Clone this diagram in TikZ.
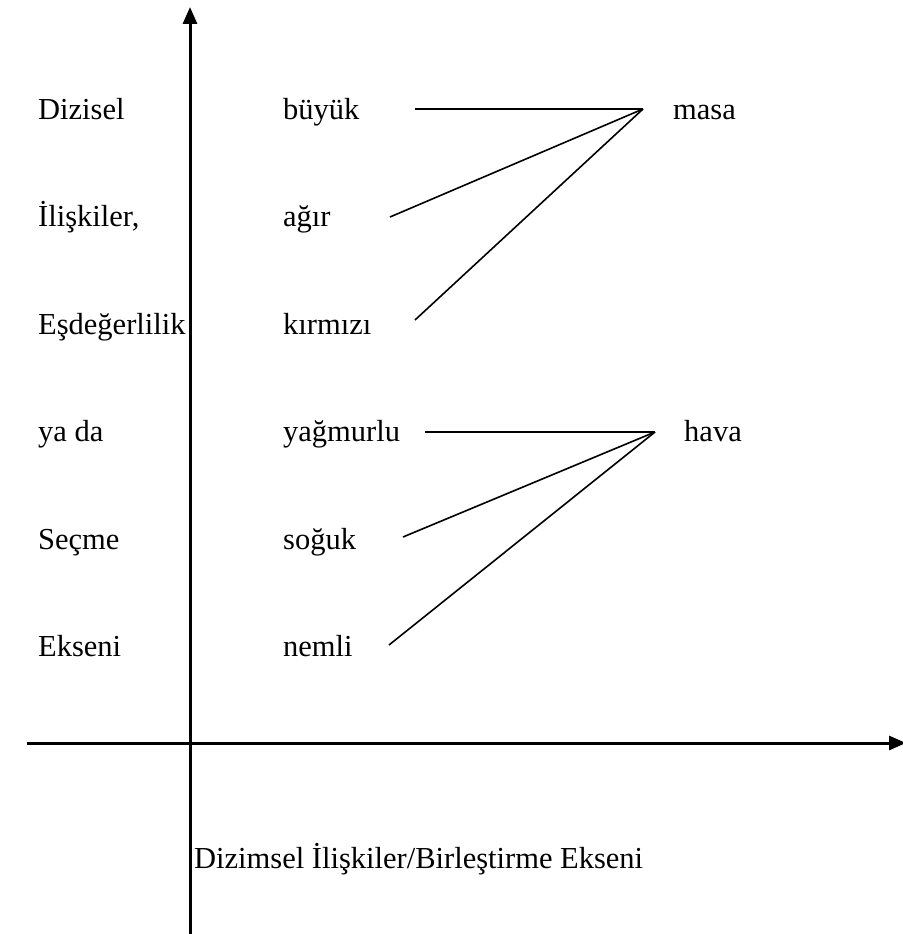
\documentclass[tikz,border=0pt]{standalone}
\usepackage{fontspec}
\setmainfont{Liberation Serif}
\usetikzlibrary{arrows.meta}
\begin{document}
\begin{tikzpicture}[x=1pt,y=-1pt,
  lbl/.style={anchor=base west,inner sep=0pt,font=\fontsize{30.5}{36}\selectfont},
  axis/.style={line width=3pt,-{Triangle[length=17pt,width=14pt]}},
  link/.style={line width=1.6pt}]
\useasboundingbox (0,0) rectangle (902,934);
% axes
\coordinate (vb) at (190,934);
\coordinate (vt) at (190,7);
\coordinate (hl) at (27,743);
\coordinate (hr) at (906,743);
\draw[axis] (vb) -- (vt);
\draw[axis] (hl) -- (hr);
% left labels
\node[lbl] (l1) at (38,119) {Dizisel};
\node[lbl] (l2) at (38,226.5) {İlişkiler,};
\node[lbl] (l3) at (38,334) {Eşdeğerlilik};
\node[lbl] (l4) at (38,441.5) {ya da};
\node[lbl] (l5) at (38,549) {Seçme};
\node[lbl] (l6) at (38,656.5) {Ekseni};
% middle labels
\node[lbl] (m1) at (283,119) {büyük};
\node[lbl] (m2) at (283,226.5) {ağır};
\node[lbl] (m3) at (283,334) {kırmızı};
\node[lbl] (m4) at (283,441.5) {yağmurlu};
\node[lbl] (m5) at (283,549) {soğuk};
\node[lbl] (m6) at (283,656.5) {nemli};
% right labels
\node[lbl] (r1) at (673,119) {masa};
\node[lbl] (r2) at (684,441.5) {hava};
% bottom label
\node[lbl] (b) at (194,868) {Dizimsel İlişkiler/Birleştirme Ekseni};
% link endpoints
\coordinate (h1) at (643,109);
\coordinate (a1) at (415,109);
\coordinate (a2) at (390,217);
\coordinate (a3) at (415,320);
\coordinate (h2) at (655,432);
\coordinate (a4) at (425,432);
\coordinate (a5) at (403,537);
\coordinate (a6) at (389,645);
\draw[link] (a1) -- (h1);
\draw[link] (a2) -- (h1);
\draw[link] (a3) -- (h1);
\draw[link] (a4) -- (h2);
\draw[link] (a5) -- (h2);
\draw[link] (a6) -- (h2);
\end{tikzpicture}
\end{document}
